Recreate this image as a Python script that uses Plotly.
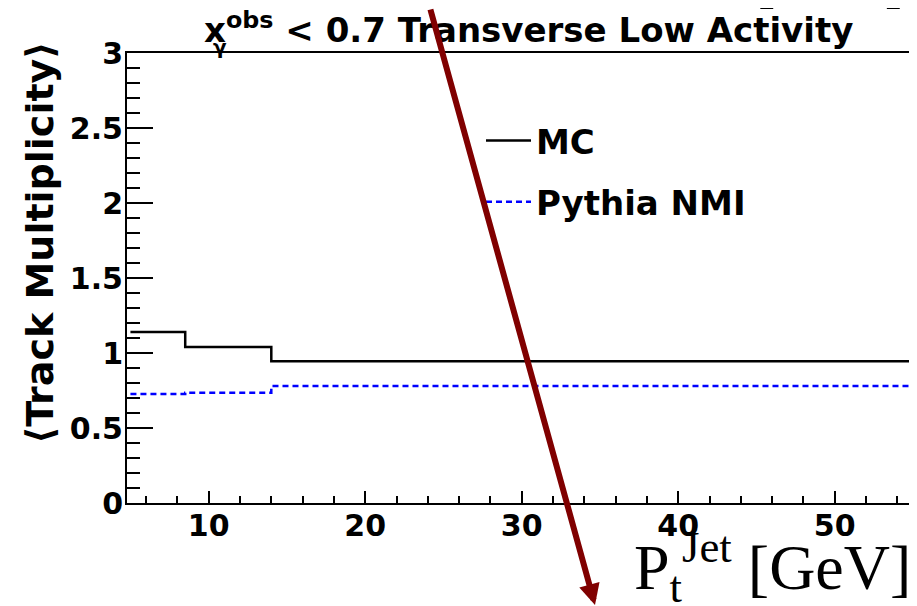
import plotly.graph_objects as go

# ---- data ----
bin_edges = [5, 8.5, 14, 55]
mc_values = [1.14, 1.04, 0.945]
pythia_values = [0.727, 0.735, 0.78]
x_tick_vals = [10, 20, 30, 40, 50]
x_tick_text = ["10", "20", "30", "40", "50"]
y_tick_vals = [0, 0.5, 1, 1.5, 2, 2.5, 3]
y_tick_text = ["0", "0.5", "1", "1.5", "2", "2.5", "3"]
series_names = ["MC", "Pythia NMI"]

# the page body has an 8px margin, so the figure is drawn 8px in/down
OFF = 8
FIG_W, FIG_H = 917 - OFF, 606 - OFF
PLOT_L, PLOT_R, PLOT_T, PLOT_B = 127, 913, 53, 503   # page pixels

def step_y(vals):
    return list(vals) + [vals[-1]]

def py(pix):
    return (PLOT_B - pix) / (PLOT_B - PLOT_T)

def px(pix):
    return (pix - PLOT_L) / (PLOT_R - PLOT_L)

BOLD = dict(family="DejaVu Sans", color="black", weight="bold")
SERIF = "Liberation Serif, Times New Roman, serif"

fig = go.Figure()
fig.add_trace(go.Scatter(
    x=bin_edges, y=step_y(mc_values), mode="lines", line_shape="hv",
    line=dict(color="black", width=2.5), name=series_names[0], legendgroup="a"))
fig.add_trace(go.Scatter(
    x=bin_edges, y=step_y(pythia_values), mode="lines", line_shape="hv",
    line=dict(color="#0000ff", width=2.5, dash="6px,4px"), name=series_names[1], legendgroup="b"))

fig.update_layout(
    width=FIG_W, height=FIG_H,
    margin=dict(l=PLOT_L - OFF, r=917 - PLOT_R, t=PLOT_T - OFF, b=606 - PLOT_B, autoexpand=False),
    paper_bgcolor="white", plot_bgcolor="white",
    showlegend=True,
    legend=dict(x=px(481), y=py(112), xanchor="left", yanchor="top",
                bgcolor="rgba(0,0,0,0)", font=dict(size=34, **BOLD),
                tracegroupgap=14, itemwidth=45, traceorder="grouped"),
    title=dict(text="x<sup>obs</sup> &lt; 0.7 Transverse Low Activity",
               x=px(204), xanchor="left", y=1 - (30 - OFF) / FIG_H, yanchor="middle",
               xref="paper", yref="container",
               font=dict(size=34, **BOLD)),
)
fig.update_xaxes(
    range=[4.78, 55], tickvals=x_tick_vals, ticktext=x_tick_text,
    ticks="inside", ticklen=12, tickwidth=1.5, tickcolor="black",
    minor=dict(dtick=2, tick0=0, ticks="inside", ticklen=7, tickwidth=1.5, tickcolor="black"),
    showline=True, linecolor="black", linewidth=2, mirror=True,
    showgrid=False, zeroline=False, automargin=False,
    tickfont=dict(size=30, **BOLD), ticklabelstandoff=-5)
fig.update_yaxes(
    range=[0, 3], tickvals=y_tick_vals, ticktext=y_tick_text,
    ticks="inside", ticklen=26, tickwidth=1.5, tickcolor="black",
    minor=dict(dtick=0.1, tick0=0, ticks="inside", ticklen=13, tickwidth=1.5, tickcolor="black"),
    showline=True, linecolor="black", linewidth=2, mirror=True,
    showgrid=False, zeroline=False, automargin=False,
    tickfont=dict(size=30, **BOLD), ticklabelstandoff=-4)

# y axis title (top-aligned like ROOT)
fig.add_annotation(text="⟨Track Multiplicity⟩", textangle=-90,
                   xref="paper", yref="paper", x=px(40), y=py(243),
                   xanchor="center", yanchor="middle", showarrow=False,
                   font=dict(size=38, **BOLD))
# gamma subscript of the title
fig.add_annotation(text="γ", xref="paper", yref="paper",
                   x=px(220), y=py(47), xanchor="center", yanchor="middle",
                   showarrow=False, font=dict(size=20, **BOLD))
# x axis label
fig.add_annotation(text="P<sub>t</sub><sup>Jet</sup> [GeV]", xref="paper", yref="paper",
                   x=1.0, y=py(614), xanchor="right", yanchor="bottom",
                   showarrow=False,
                   font=dict(size=64, family=SERIF, color="black"))
# clipped text at the very top
fig.add_annotation(text="[GeV]", xref="paper", yref="paper",
                   x=px(906), y=py(16), xanchor="right", yanchor="bottom",
                   showarrow=False,
                   font=dict(size=58, family=SERIF, color="black"))
# red vertical line at the right edge
fig.add_shape(type="line", xref="paper", yref="paper", x0=px(915), x1=px(915), y0=0, y1=1,
              line=dict(color="red", width=2))
# dark red arrow overlay
fig.add_annotation(text="", xref="paper", yref="paper",
                   x=px(595), y=py(625),
                   ax=-165, ay=-630, axref="pixel", ayref="pixel",
                   showarrow=True, arrowhead=2, arrowsize=0.7, arrowwidth=6,
                   arrowcolor="#800000")

fig.write_html("out.html")
